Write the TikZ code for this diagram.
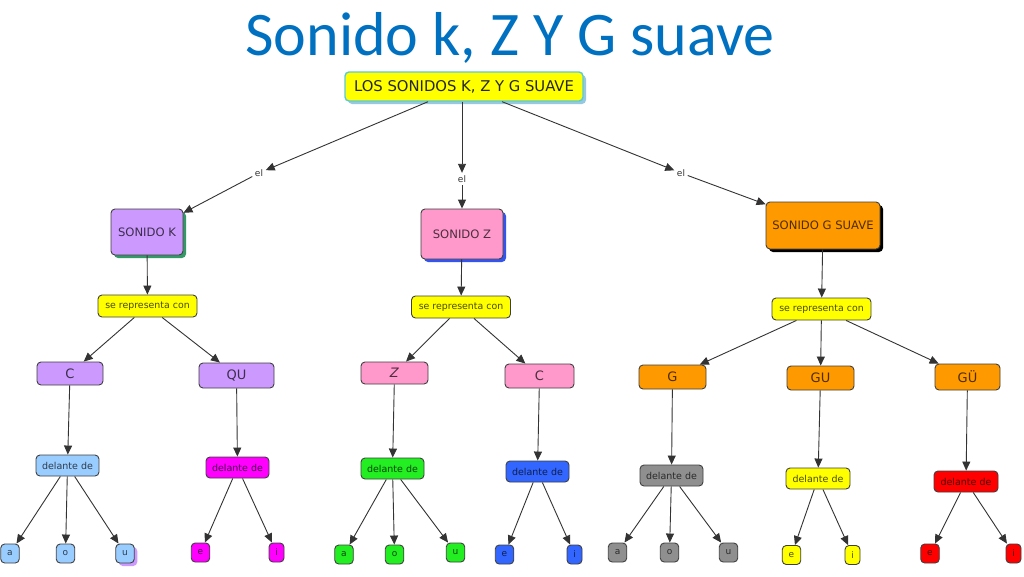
\documentclass[tikz,border=0pt]{standalone}
\usepackage{fontspec}
\setmainfont{DejaVu Sans}
\newfontfamily\titlefont{Carlito}
\usetikzlibrary{arrows.meta,shadows}
\definecolor{titleblue}{HTML}{0070C0}
\definecolor{lav}{HTML}{CC99FF}
\definecolor{pinkc}{HTML}{FF99CC}
\definecolor{orangec}{HTML}{FF9900}
\definecolor{yel}{HTML}{FFFF00}
\definecolor{lblue}{HTML}{99CCFF}
\definecolor{mag}{HTML}{FF00FF}
\definecolor{grn}{HTML}{22EE22}
\definecolor{blu}{HTML}{3366FF}
\definecolor{gry}{HTML}{8F8F8F}
\definecolor{redc}{HTML}{FF0000}
\definecolor{shgreen}{HTML}{339966}
\definecolor{shblue}{HTML}{3355EE}
\definecolor{rootline}{HTML}{5BC8D8}
\definecolor{rootshadow}{HTML}{96C8E0}
\definecolor{linec}{HTML}{333333}
\begin{document}
\begin{tikzpicture}[x=1pt,y=-1pt,
 box/.style={draw=black!75, line width=0.9pt, rounded corners=4pt, inner sep=0pt, fill=#1, text=#1!30!black},
 big/.style={box=#1, font=\fontsize{11.6}{13}\selectfont},
 rep/.style={box=yel, font=\fontsize{9.4}{11}\selectfont, minimum width=99pt, minimum height=22pt},
 letter/.style={box=#1, font=\fontsize{13}{15}\selectfont},
 del/.style={box=#1, font=\fontsize{9.5}{11}\selectfont, minimum width=63pt, minimum height=21pt},
 leaf/.style={box=#1, font=\fontsize{9}{10}\selectfont, minimum width=18.5pt, minimum height=19pt},
 leafi/.style={leaf=#1, minimum width=15pt},
 lbl/.style={font=\fontsize{9}{10}\selectfont, text=black!80, inner sep=2.5pt},
 arr/.style={draw=linec, line width=0.9pt, -{Triangle[length=9pt,width=8pt]}},
 shad/.style={drop shadow={shadow xshift=3pt, shadow yshift=-3pt, fill=#1, opacity=1}},
]
\fill[white] (0,0) rectangle (1024,576);
\useasboundingbox (0,0) rectangle (1024,576);

% title
\node[font=\titlefont\fontsize{62}{70}\selectfont, text=titleblue, anchor=base, inner sep=0pt] (title) at (510,55) {Sonido k, Z Y G suave};

% root
\node[box=yel, draw=rootline, line width=1.4pt, text=black!85, shad=rootshadow, minimum width=238pt, minimum height=29pt, font=\fontsize{14.8}{17}\selectfont] (root) at (464,86.5) {LOS SONIDOS K, Z Y G SUAVE};

% labels
\node[lbl] (el1) at (259,173) {el};
\node[lbl] (el2) at (462,179) {el};
\node[lbl] (el3) at (681,173) {el};

% main concepts
\node[big=lav, shad=shgreen, minimum width=72pt, minimum height=46pt] (SK) at (147,232) {SONIDO K};
\node[big=pinkc, shad=shblue, minimum width=82pt, minimum height=50pt] (SZ) at (462,234) {SONIDO Z};
\node[big=orangec, shad=black, minimum width=114pt, minimum height=47pt] (SG) at (823,225.5) {SONIDO G SUAVE};

% se representa con
\node[rep] (seK) at (147.5,306) {se representa con};
\node[rep] (seZ) at (461,307) {se representa con};
\node[rep] (seG) at (821.5,309) {se representa con};

% letters
\node[letter=lav, minimum width=66pt, minimum height=23pt] (CK) at (70,373.5) {C};
\node[letter=lav, minimum width=75pt, minimum height=25pt] (QU) at (236.5,375.5) {QU};
\node[letter=pinkc, minimum width=67pt, minimum height=22pt] (ZZ) at (394.5,373) {\textit{Z}};
\node[letter=pinkc, minimum width=69pt, minimum height=24pt] (CZ) at (539.5,376) {C};
\node[letter=orangec, minimum width=67pt, minimum height=24pt] (GG) at (672.5,377) {G};
\node[letter=orangec, minimum width=67pt, minimum height=24pt] (GU) at (820.5,378) {GU};
\node[letter=orangec, minimum width=65pt, minimum height=26pt] (GD) at (967.5,377) {GÜ};

% delante de
\node[del=lblue] (dK) at (67.5,465.5) {delante de};
\node[del=mag] (dQU) at (237.5,467.5) {delante de};
\node[del=grn] (dZ) at (392.5,468.5) {delante de};
\node[del=blu] (dCZ) at (537.5,471.5) {delante de};
\node[del=gry] (dG) at (671.5,475.5) {delante de};
\node[del=yel, minimum width=64pt] (dGU) at (818,478.5) {delante de};
\node[del=redc, minimum width=64pt] (dGD) at (966,481.5) {delante de};

% leaves
\node[leaf=lblue] (ka) at (10,553.5) {a};
\node[leaf=lblue] (ko) at (65.5,553.5) {o};
\node[leaf=lblue, shad=lav] (ku) at (125,553.5) {u};
\node[leaf=mag] (qe) at (200.5,552.5) {e};
\node[leafi=mag] (qi) at (276.5,552.5) {i};
\node[leaf=grn] (za) at (344,554.5) {a};
\node[leaf=grn] (zo) at (394.5,554.5) {o};
\node[leaf=grn] (zu) at (455.5,552.5) {u};
\node[leaf=blu] (ce) at (504.5,554.5) {e};
\node[leafi=blu] (ci) at (574.5,554.5) {i};
\node[leaf=gry] (ga) at (617.5,552.5) {a};
\node[leaf=gry] (go) at (669.5,552.5) {o};
\node[leaf=gry] (gu) at (728.5,552.5) {u};
\node[leaf=yel] (ue) at (791.5,555) {e};
\node[leafi=yel] (ui) at (852.5,555) {i};
\node[leaf=redc] (de) at (930,553.5) {e};
\node[leafi=redc] (di) at (1013.5,553.5) {i};

% connectors
\draw[arr] (root) -- (el1);
\draw[arr] (el1) -- (SK);
\draw[arr] (root.south -| el2) -- (el2);
\draw[arr] (el2) -- (SZ);
\draw[arr] (root) -- (el3);
\draw[arr] (el3) -- (SG);

\draw[arr] (SK) -- (seK);
\draw[arr] (SZ) -- (seZ);
\draw[arr] (SG) -- (seG);

\draw[arr] (seK) -- (CK);
\draw[arr] (seK) -- (QU);
\draw[arr] (seZ) -- (ZZ);
\draw[arr] (seZ) -- (CZ);
\draw[arr] (seG) -- (GG);
\draw[arr] (seG) -- (GU);
\draw[arr] (seG) -- (GD);

\draw[arr] (CK) -- (dK);
\draw[arr] (QU) -- (dQU);
\draw[arr] (ZZ) -- (dZ);
\draw[arr] (CZ) -- (dCZ);
\draw[arr] (GG) -- (dG);
\draw[arr] (GU) -- (dGU);
\draw[arr] (GD) -- (dGD);

\draw[arr] (dK) -- (ka);
\draw[arr] (dK) -- (ko);
\draw[arr] (dK) -- (ku);
\draw[arr] (dQU) -- (qe);
\draw[arr] (dQU) -- (qi);
\draw[arr] (dZ) -- (za);
\draw[arr] (dZ) -- (zo);
\draw[arr] (dZ) -- (zu);
\draw[arr] (dCZ) -- (ce);
\draw[arr] (dCZ) -- (ci);
\draw[arr] (dG) -- (ga);
\draw[arr] (dG) -- (go);
\draw[arr] (dG) -- (gu);
\draw[arr] (dGU) -- (ue);
\draw[arr] (dGU) -- (ui);
\draw[arr] (dGD) -- (de);
\draw[arr] (dGD) -- (di);
\end{tikzpicture}
\end{document}
